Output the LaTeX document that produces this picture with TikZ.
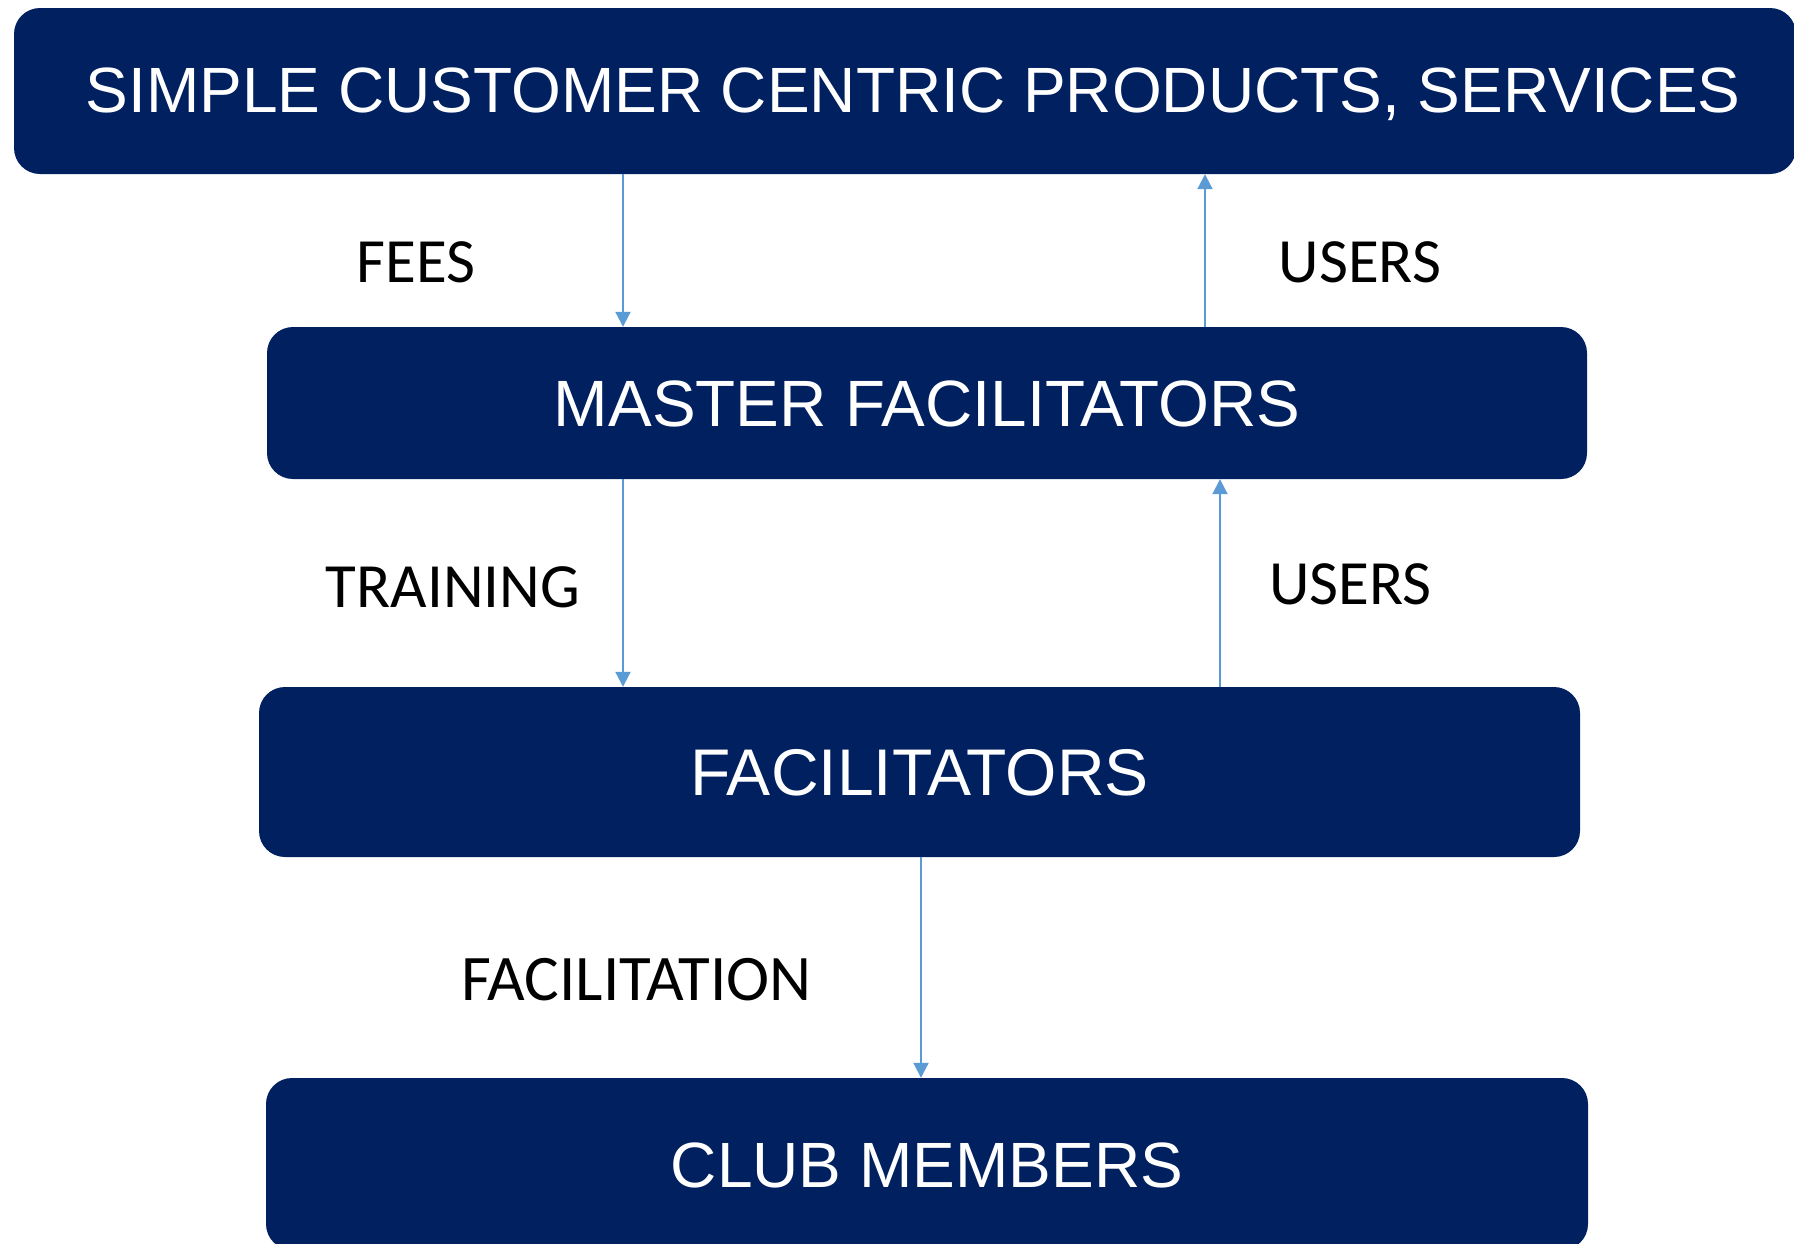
\documentclass[tikz,border=0pt]{standalone}
\usepackage{fontspec}
\setmainfont{Liberation Sans}
\newfontfamily\labelfont{Carlito}
\usetikzlibrary{arrows.meta}
\definecolor{navy}{RGB}{0,32,96}
\definecolor{arrowblue}{RGB}{91,155,213}
\begin{document}
\begin{tikzpicture}[x=1pt,y=-1pt,
  box/.style={fill=navy, draw=none, rounded corners=26pt, text=white,
    font=\fontsize{64}{76}\selectfont, inner sep=0pt, text height=46pt, text depth=0pt},
  flow/.style={draw=arrowblue, line width=2pt, -{Triangle[length=15pt,width=15pt]}},
  lbl/.style={font=\labelfont\fontsize{63}{75}\selectfont, text=black,
    inner sep=0pt, text height=40pt, text depth=0pt}]
\path[use as bounding box] (0,0) rectangle (1794,1243);
\clip (0,0) rectangle (1794,1243);
\fill[white] (0,0) rectangle (1794,1243);

\node[box, minimum width=1782pt, minimum height=166pt] (top) at (905,91) {};
\node[text=white, font=\fontsize{64}{76}\selectfont, inner sep=0pt, text height=46pt, text depth=0pt] (toptext) at (913,89) {SIMPLE CUSTOMER CENTRIC PRODUCTS, SERVICES};
\node[box, minimum width=1320pt, minimum height=152pt, font=\fontsize{65.5}{78}\selectfont] (master) at (927,403) {MASTER FACILITATORS};
\node[box, minimum width=1321pt, minimum height=170pt, font=\fontsize{66}{78}\selectfont] (fac) at (919.5,772) {FACILITATORS};
\node[box, minimum width=1322pt, minimum height=172pt] (club) at (927,1164) {CLUB MEMBERS};

\coordinate (xa) at (623,0);
\coordinate (xb) at (1205,0);
\coordinate (xc) at (1220,0);
\coordinate (xd) at (921,0);

\draw[flow] (top.south -| xa) -- (master.north -| xa);
\draw[flow] (master.north -| xb) -- (top.south -| xb);
\draw[flow] (master.south -| xa) -- (fac.north -| xa);
\draw[flow] (fac.north -| xc) -- (master.south -| xc);
\draw[flow] (fac.south -| xd) -- (club.north -| xd);

\node[lbl] (lfees) at (416,262) {FEES};
\node[lbl] (lusers1) at (1360,262) {USERS};
\node[lbl] (ltrain) at (453,587) {TRAINING};
\node[lbl] (lusers2) at (1350.5,584) {USERS};
\node[lbl, font=\labelfont\fontsize{65}{77}\selectfont] (lfacil) at (636.5,980) {FACILITATION};
\end{tikzpicture}
\end{document}
